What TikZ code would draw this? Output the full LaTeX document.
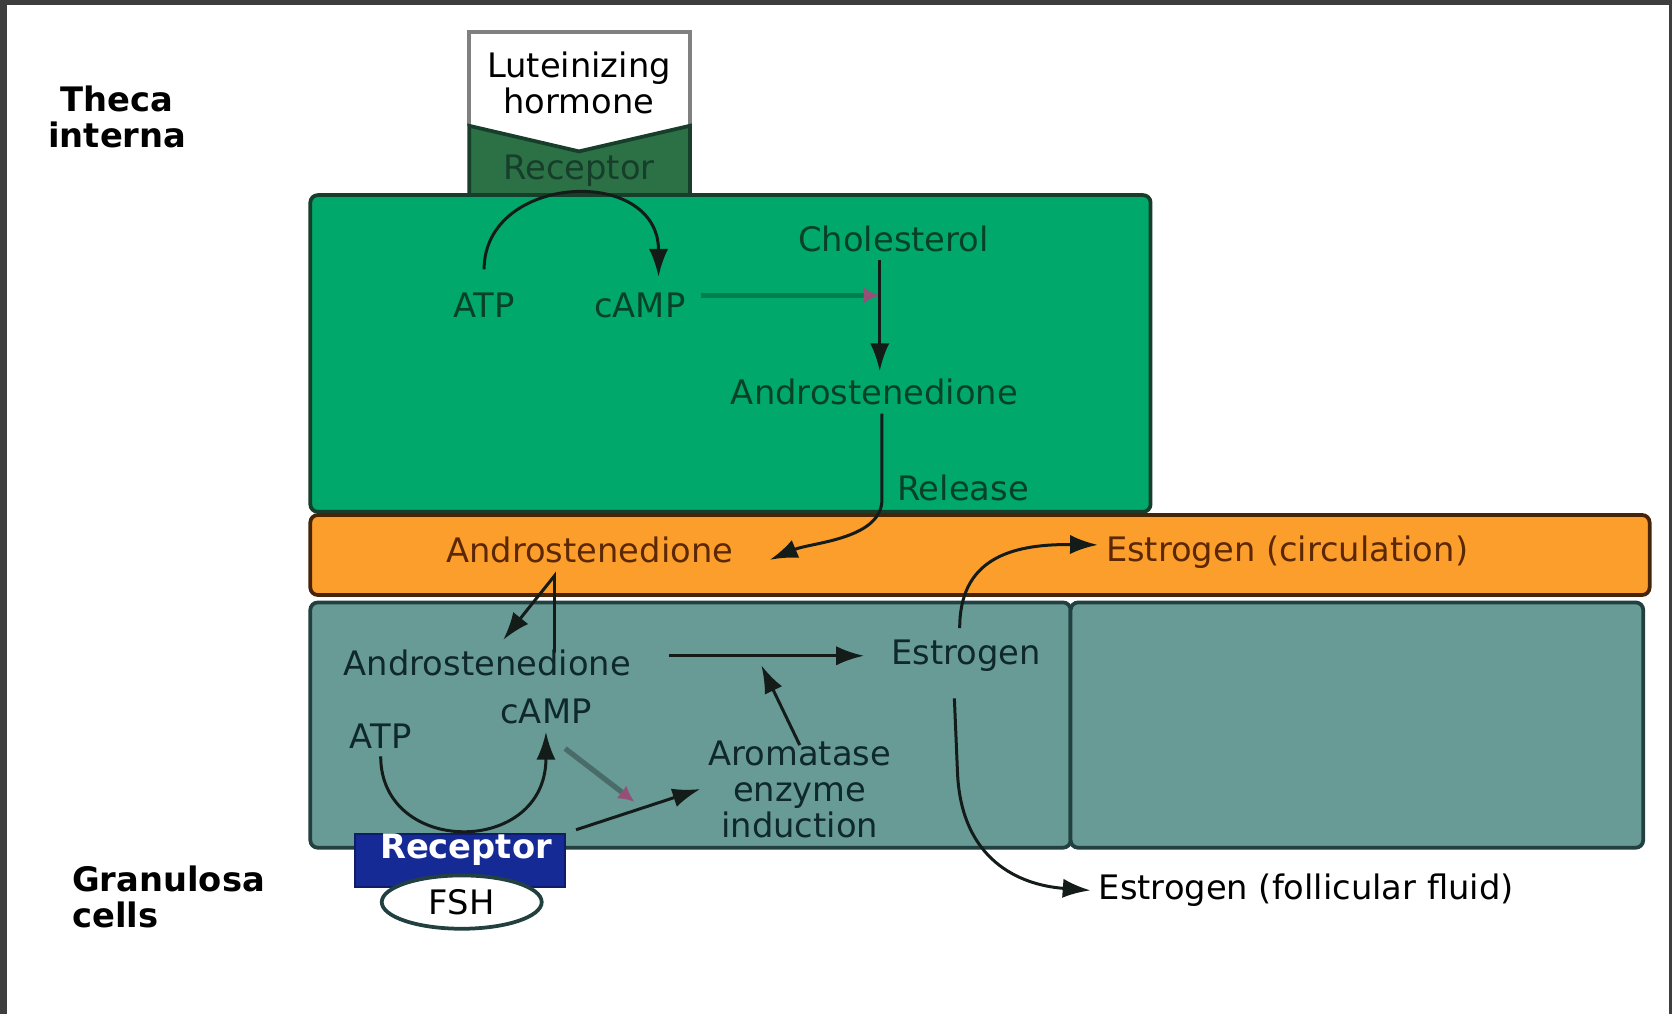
\documentclass[tikz,border=0pt]{standalone}
\usepackage{fontspec}
\setmainfont{DejaVu Sans}
\usetikzlibrary{arrows.meta}
\usetikzlibrary{shapes.geometric}
\usetikzlibrary{positioning}

\definecolor{framegrey}{RGB}{62,62,62}
\definecolor{thecagreen}{RGB}{0,168,107}
\definecolor{thecaline}{RGB}{22,62,42}
\definecolor{lhgreen}{RGB}{44,112,70}
\definecolor{fluidorange}{RGB}{252,158,44}
\definecolor{fluidline}{RGB}{70,36,8}
\definecolor{granteal}{RGB}{104,154,150}
\definecolor{granline}{RGB}{34,64,64}
\definecolor{fshblue}{RGB}{22,42,150}
\definecolor{greentext}{RGB}{8,66,38}
\definecolor{orangetext}{RGB}{92,40,4}
\definecolor{tealtext}{RGB}{14,40,44}
\definecolor{arrowdark}{RGB}{20,28,26}
\definecolor{stimtip}{RGB}{150,80,120}

\tikzset{
  lbl/.style={font=\fontsize{9}{9.6}\selectfont, align=center, inner sep=2pt},
  side/.style={lbl, font=\fontsize{9}{9.6}\selectfont\bfseries, text=black},
  arr/.style={-{Latex[length=2.6mm,width=1.8mm]}, line width=0.8pt, draw=arrowdark},
  stim/.style={-{Latex[length=1.5mm,width=1.5mm,color=stimtip]}, line width=1.4pt},
  cellbox/.style={rounded corners=2pt, line width=1pt}
}

\begin{document}
\begin{tikzpicture}
  \useasboundingbox (0,0) rectangle (15.68,9.51);
  \fill [white] (0,0) rectangle (15.68,9.51);
  \fill [framegrey] (0,9.46) rectangle (15.68,9.51);
  \fill [framegrey] (0,0) rectangle (0.07,9.51);
  \fill [framegrey] (15.65,0) rectangle (15.68,9.51);

  % cell layers
  \draw [cellbox, fill=thecagreen, draw=thecaline] (2.91,7.68) rectangle (10.79,4.71);
  \draw [cellbox, fill=fluidorange, draw=fluidline] (2.91,4.68) rectangle (15.47,3.93);
  \draw [cellbox, fill=granteal, draw=granline] (2.91,3.86) rectangle (10.04,1.56);
  \draw [cellbox, fill=granteal, draw=granline] (10.04,3.86) rectangle (15.41,1.56);

  % LH bound to its receptor
  \draw [fill=white, draw=gray, line width=1pt] (4.40,8.33) -- (4.40,9.21) -- (6.47,9.21) -- (6.47,8.33);
  \draw [fill=lhgreen, draw=thecaline, line width=1pt] (4.40,8.33) -- (5.43,8.09) -- (6.47,8.33) -- (6.47,7.68) -- (4.40,7.68) -- cycle;
  \node [lbl, text=black] (lh) at (5.43,8.73) {Luteinizing\\hormone};
  \node [lbl, text=thecaline] (lhrec) at (5.43,7.91) {Receptor};

  % FSH bound to its receptor
  \node [draw=fshblue!70!black, fill=fshblue, minimum width=1.97cm, minimum height=0.5cm, inner sep=0pt] (rec) at (4.315,1.44) {};
  \node [ellipse, draw=granline, fill=white, line width=1pt, minimum width=1.5cm, minimum height=0.5cm] (fsh) at (4.33,1.05) {};
  \node [lbl, text=black] at (fsh) {FSH};
  \node [side, text=white] (rectxt) at (4.37,1.54) {Receptor};

  \node [side] (theca) at (1.10,8.41) {Theca\\interna};
  \node [side, anchor=west, align=left] (granulosa) at (0.60,1.10) {Granulosa\\cells};

  % theca interna
  \node [lbl, text=greentext] (tATP) at (4.54,6.65) {ATP};
  \node [lbl, text=greentext] (tcAMP) at (6.00,6.65) {cAMP};
  \node [lbl, text=greentext] (chol) at (8.38,7.27) {Cholesterol};
  \node [lbl, text=greentext] (tandro) at (8.20,5.83) {Androstenedione};
  \node [lbl, text=greentext] (release) at (9.03,4.93) {Release};

  % fluid between the layers
  \node [lbl, text=orangetext] (oandro) at (5.53,4.35) {Androstenedione};
  \node [lbl, text=orangetext] (ocirc) at (12.07,4.33) {Estrogen (circulation)};

  % granulosa cells
  \node [lbl, text=tealtext] (gandro) at (4.57,3.29) {Androstenedione};
  \node [lbl, text=tealtext] (gestr) at (9.06,3.36) {Estrogen};
  \node [lbl, text=tealtext] (arom) at (7.50,2.11) {Aromatase\\enzyme\\induction};
  \node [lbl, text=tealtext] (gATP) at (3.57,2.61) {ATP};
  \node [lbl, text=tealtext] (gcAMP) at (5.12,2.84) {cAMP};
  \node [lbl, text=black] (ffluid) at (12.25,1.16) {Estrogen (follicular fluid)};

  \coordinate (c1) at (8.25,6.74);
  \coordinate (r1) at (8.27,4.80);
  \coordinate (r2) at (7.22,4.26);
  \coordinate (h1) at (5.20,3.39);
  \coordinate (h2) at (5.20,4.11);
  \coordinate (h3) at (4.72,3.51);
  \coordinate (a1) at (7.14,3.27);
  \coordinate (s0) at (5.30,2.49);
  \coordinate (s1) at (5.95,1.99);
  \coordinate (e1) at (9.00,3.62);
  \coordinate (f1) at (8.95,2.96);
  \coordinate (f2) at (8.98,2.25);

  \draw [arr] ([yshift=4pt]tATP.north) .. controls +(0,0.9) and +(0,1.05) .. ([xshift=5pt,yshift=2pt]tcAMP.north);
  \draw [stim, draw=thecagreen!75!black, shorten <=2pt] (tcAMP.east |- c1) -- (c1);
  \draw [arr] (chol.south -| c1) -- (tandro.north -| c1);
  \draw [arr] (tandro.south -| r1) -- (r1) .. controls (8.24,4.45) and (7.60,4.42) .. (r2);

  \draw [arr] (h1) -- (h2) -- (h3);
  \draw [arr, shorten <=0.28cm, shorten >=0.18cm] (gandro.east |- gestr) -- (gestr.west);
  \draw [arr] (arom.north) ++(0,-0.12) -- (a1);
  \draw [arr] (gATP.south) .. controls +(0,-0.94) and +(0,-1.17) .. (gcAMP.south);
  \draw [stim, draw=granteal!70!black] (s0) -- (s1);
  \draw [arr, shorten <=0.1cm] (rec.north east) -- (arom.west);

  \draw [arr] (e1) .. controls (9.00,4.25) and (9.45,4.41) .. ([yshift=0.07cm]ocirc.west);
  \draw [arr] (f1) -- (f2) .. controls (9.02,1.45) and (9.55,1.21) .. (ffluid.west);
\end{tikzpicture}
\end{document}
